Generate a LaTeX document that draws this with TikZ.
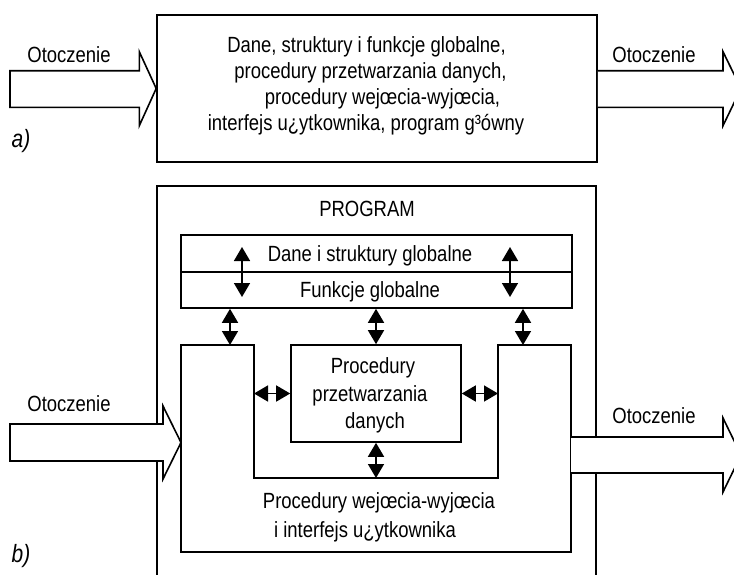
\documentclass[tikz,border=0pt]{standalone}
\usepackage{fontspec}
\setmainfont{Liberation Sans}[FakeStretch=0.84]
\usetikzlibrary{arrows.meta}
\begin{document}
\begin{tikzpicture}[x=1pt,y=-1pt,line width=1.6pt,
  box/.style={draw,line width=1.6pt,inner sep=0pt,fill=white},
  txt/.style={inner sep=0pt,anchor=base,font=\fontsize{22}{26}\selectfont},
  itxt/.style={txt,font=\fontsize{25}{26}\selectfont\itshape},
  dbl/.style={{Triangle[width=16pt,length=14pt]}-{Triangle[width=16pt,length=14pt]},line width=1.6pt},
  blockarrow/.style={draw,fill=white,line width=1.6pt,line join=miter}]
\useasboundingbox (0,0) rectangle (734,574);
\clip (0,0) rectangle (734,574);

% ---------- a) ----------
\node[box,minimum width=440pt,minimum height=147pt] (boxa) at (377,88.5) {};
\filldraw[blockarrow] (10,70.7) -- (139.3,70.7) -- (139.3,51.7) -- (boxa.west |- 0,88.5) -- (139.3,125.7) -- (139.3,107.3) -- (10,107.3) -- cycle;
\filldraw[blockarrow] (boxa.east |- 0,70.7) -- (723,70.7) -- (723,51.7) -- (741,88.5) -- (723,125.7) -- (723,107.3) -- (boxa.east |- 0,107.3);
\node[txt] (oa1) at (69,62) {Otoczenie};
\node[txt] (oa2) at (654,62) {Otoczenie};
\node[itxt] (la) at (21,147) {a)};
\node[txt] (a1) at (366.5,52) {Dane, struktury i funkcje globalne,};
\node[txt] (a2) at (370.5,78) {procedury przetwarzania danych,};
\node[txt] (a3) at (382.5,104) {procedury wejœcia-wyjœcia,};
\node[txt] (a4) at (366,130) {interfejs u¿ytkownika, program g³ówny};

% ---------- b) ----------
\node[box,fill=none,minimum width=439pt,minimum height=414pt] (prog) at (376.5,393) {};
\node[txt] (progt) at (367,216) {PROGRAM};

\node[box,minimum width=391pt,minimum height=37pt] (dane) at (376.5,253.5) {};
\node[box,minimum width=391pt,minimum height=36pt] (funk) at (376.5,290) {};
\node[txt] (danet) at (370,261) {Dane i struktury globalne};
\node[txt] (funkt) at (370,297) {Funkcje globalne};

% I/O U-shaped block
\coordinate (io1) at (181,345);
\coordinate (io2) at (254,345);
\coordinate (io3) at (254,478);
\coordinate (io4) at (498,478);
\coordinate (io5) at (498,345);
\coordinate (io6) at (571,345);
\coordinate (io7) at (571,552);
\coordinate (io8) at (181,552);
\filldraw[blockarrow] (io1) -- (io2) -- (io3) -- (io4) -- (io5) -- (io6) -- (io7) -- (io8) -- cycle;

\node[box,minimum width=170pt,minimum height=97pt] (proc) at (376,393.5) {};
\node[txt] (p1) at (373,373) {Procedury};
\node[txt] (p2) at (370,401) {przetwarzania};
\node[txt] (p3) at (375,428) {danych};

\node[txt] (io1t) at (379,508) {Procedury wejœcia-wyjœcia};
\node[txt] (io2t) at (365,537) {i interfejs u¿ytkownika};

% block arrows b)
\filldraw[blockarrow] (10,424) -- (163,424) -- (163,406) -- (io1 |- 0,442.5) -- (163,479) -- (163,461) -- (10,461) -- cycle;
\filldraw[blockarrow] (io6 |- 0,437) -- (723,437) -- (723,418) -- (741,455) -- (723,492) -- (723,473) -- (io6 |- 0,473);
\node[txt] (ob1) at (69,411) {Otoczenie};
\node[txt] (ob2) at (654,423) {Otoczenie};
\node[itxt] (lb) at (21,562) {b)};

% double arrows
\coordinate (g1a) at (242,247);
\coordinate (g1b) at (242,297);
\coordinate (g2a) at (510,247);
\coordinate (g2b) at (510,297);
\draw[dbl] (g1a) -- (g1b);
\draw[dbl] (g2a) -- (g2b);
\coordinate (l1) at (230,345);
\coordinate (r1) at (523,345);
\draw[dbl] (funk.south -| l1) -- (l1);
\draw[dbl] (funk.south -| proc.north) -- (proc.north);
\draw[dbl] (funk.south -| r1) -- (r1);
\draw[dbl] (io2 |- proc.west) -- (proc.west);
\draw[dbl] (proc.east) -- (io5 |- proc.east);
\draw[dbl] (proc.south) -- (proc.south |- io3);
\end{tikzpicture}
\end{document}
